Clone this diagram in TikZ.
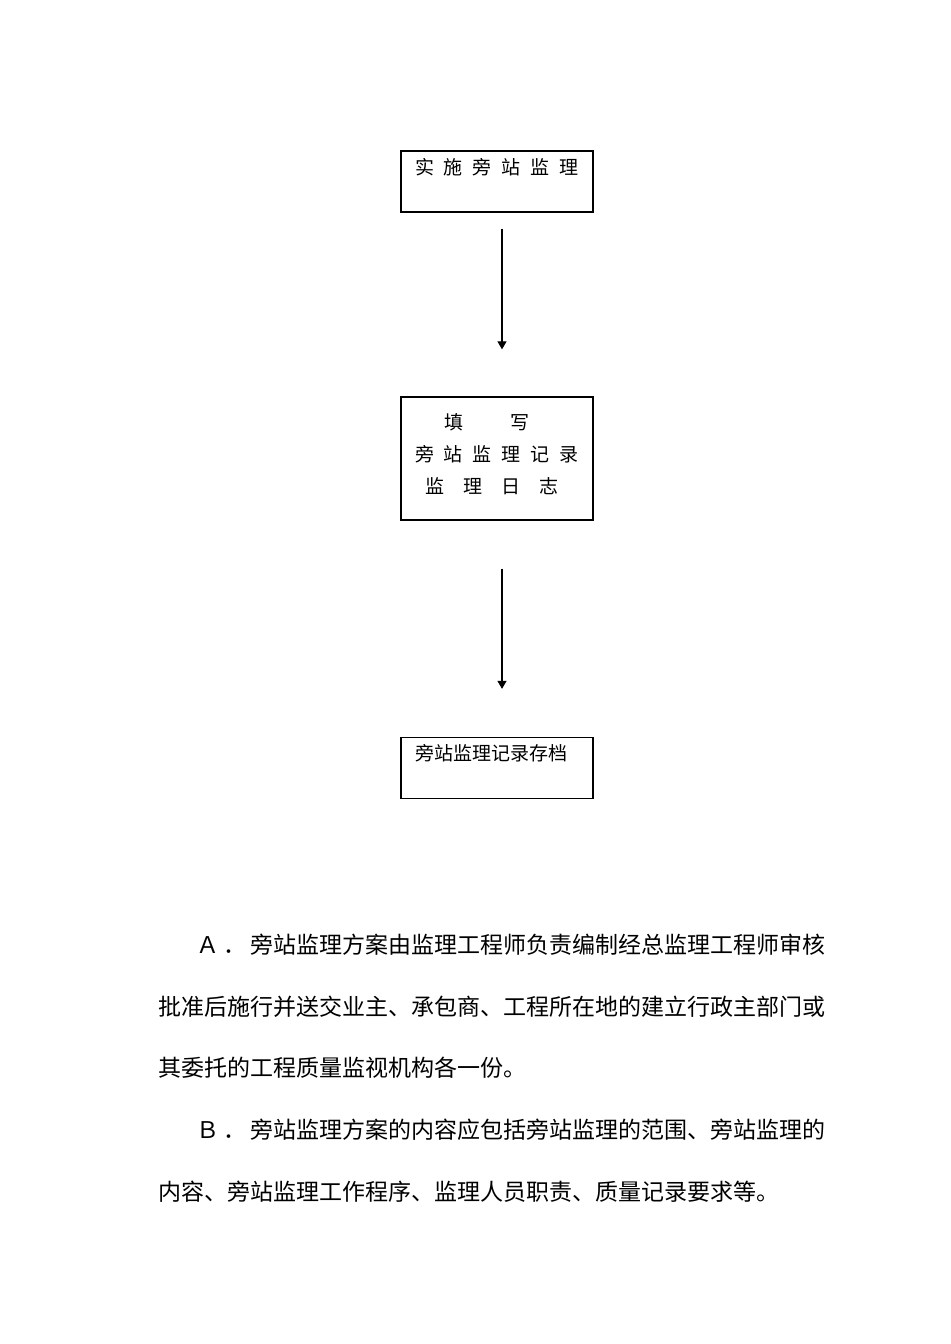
\documentclass[tikz,border=0pt]{standalone}
\usepackage{fontspec}
\newfontfamily\cjk{Noto Sans CJK SC}
\usetikzlibrary{arrows.meta}
\newcommand{\cgap}{\hspace{6pt}}
% stretchable glue between CJK characters, so a full line can be spread
\XeTeXinterchartoks 1 1 = {\hskip 0pt plus 2pt}
\XeTeXinterchartoks 1 3 = {\hskip 0pt plus 2pt}
\XeTeXinterchartoks 3 1 = {\hskip 0pt plus 2pt}
\XeTeXinterchartoks 3 3 = {\hskip 0pt plus 2pt}
\newcommand{\bodysetup}{\cjk\fontsize{13.8pt}{36.9pt}\selectfont\XeTeXinterchartokenstate=1 }
\newcommand{\fullline}[1]{\makebox[400.2pt][s]{#1}}

\begin{document}
\begin{tikzpicture}[x=0.6pt, y=-0.6pt,
    box/.style={rectangle, draw, line width=0.8pt, inner xsep=8.4pt, inner ysep=0pt,
      text width=98.4pt, align=left, font=\cjk\fontsize{11.4pt}{19.2pt}\selectfont},
    onebox/.style={box, text height=13.8pt, text depth=22.8pt},
    tallbox/.style={box, text height=19.2pt, text depth=54.6pt},
    flow/.style={-{Triangle[width=5.4pt,length=4.8pt]}, line width=0.7pt},
    para/.style={anchor=north west, inner sep=0pt, text width=400.2pt, align=left, font=\bodysetup}]
      \useasboundingbox (0,0) rectangle (950,1344);

      \node (A) [onebox] at (497,181.5) {实\cgap{}施\cgap{}旁\cgap{}站\cgap{}监\cgap{}理};
      \node (B) [tallbox] at (497,458.5) {%
        \hspace*{17.4pt}填\hspace{28.8pt}写\\
        旁\cgap{}站\cgap{}监\cgap{}理\cgap{}记\cgap{}录\\
        \hspace*{6pt}监\hspace{11.6pt}理\hspace{11.6pt}日\hspace{11.6pt}志};
      \node (C) [onebox] at (497,768) {旁站监理记录存档};

      \draw[flow] ([xshift=3pt, yshift=-9.6pt]A.south) -- ([xshift=3pt, yshift=28.2pt]B.north);
      \draw[flow] ([xshift=3pt, yshift=-28.8pt]B.south) -- ([xshift=3pt, yshift=28.8pt]C.north);

      \node (paraA) [para] at (158,934) {%
        \hspace*{22.8pt}\makebox[377.4pt][s]{Ａ\hspace{0pt plus 2pt}．\hspace{0pt plus 2pt}旁站监理方案由监理工程师负责编制经总监理工程师审核}\\
        \fullline{批准后施行并送交业主、承包商、工程所在地的建立行政主部门或}\\
        其委托的工程质量监视机构各一份。};
      \node (paraB) [para] at (158,1119) {%
        \hspace*{22.8pt}\makebox[377.4pt][s]{Ｂ\hspace{0pt plus 2pt}．\hspace{0pt plus 2pt}旁站监理方案的内容应包括旁站监理的范围、旁站监理的}\\
        内容、旁站监理工作程序、监理人员职责、质量记录要求等。};
    \end{tikzpicture}
\end{document}
